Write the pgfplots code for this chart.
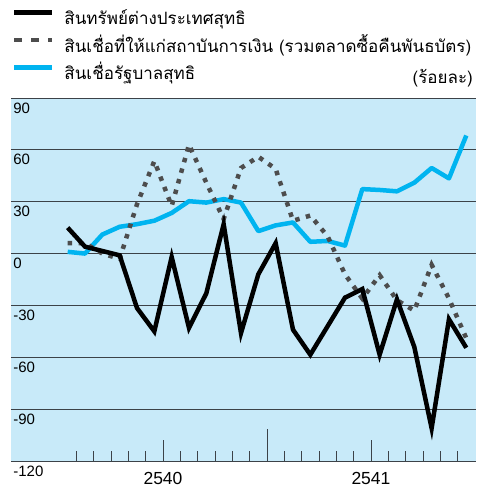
\documentclass[border=0pt]{standalone}
\usepackage{fontspec}
\setmainfont{Liberation Sans}
\newfontfamily\thaifont[Script=Thai]{Loma}
\usepackage{pgfplots}
\pgfplotsset{compat=1.18}
\definecolor{bgblue}{RGB}{200,234,249}
\definecolor{lineblue}{RGB}{0,180,240}
\definecolor{dgray}{RGB}{77,77,77}
\definecolor{gridc}{RGB}{60,66,72}
\begin{document}
\begin{tikzpicture}[x=1pt,y=1pt]
\path[use as bounding box] (0,0) rectangle (483,488);
\begin{axis}[
  at={(11pt,27pt)}, anchor=south west,
  scale only axis, width=465pt, height=363pt,
  xmin=-2.77, xmax=24.06, ymin=-120, ymax=90,
  axis background/.style={fill=bgblue},
  axis line style={draw=none},
  ytick={-120,-90,-60,-30,0,30,60,90},
  yticklabels={-120,-90,-60,-30,0,30,60,90},
  ymajorgrids, grid style={gridc, line width=0.9pt},
  ytick style={draw=none},
  yticklabel style={anchor=north west, inner sep=0pt, xshift=2.2pt, yshift=-4.4pt, font=\fontsize{15}{18}\selectfont},
  xtick={6,18}, xticklabels={2540,2541},
  minor xtick={1,...,23},
  extra x ticks={12}, extra x tick labels={},
  extra x tick style={major tick length=32pt, grid=none},
  xtick pos=bottom, tick align=inside,
  major tick length=21pt, minor tick length=10pt,
  xtick style={gridc, line width=0.9pt},
  xticklabel style={anchor=north, inner sep=0pt, yshift=-11.5pt, font=\fontsize{17.5}{20}\selectfont},
  title={\thaifont (ร้อยละ)},
  title style={at={(axis description cs:1,1)}, anchor=south east, inner sep=0pt, xshift=-3pt, yshift=4.5pt, font=\thaifont\fontsize{17}{20}\selectfont},
  legend cell align=left,
  legend image code/.code={\draw[#1] (0pt,7pt) -- (38pt,7pt);},
  legend style={at={(axis description cs:0,1)}, anchor=south west, xshift=1pt, yshift=9.8pt,
    draw=none, fill=none, inner sep=0pt, outer sep=0pt, row sep=0pt,
    font=\thaifont\fontsize{17}{20}\selectfont,
    nodes={inner sep=0pt, text height=19pt, text depth=8.5pt},
    /tikz/every odd column/.append style={column sep=10pt}},
]
\addlegendimage{black, line width=4.5pt}
\addlegendentry{สินทรัพย์ต่างประเทศสุทธิ}
\addlegendimage{dgray, line width=4.5pt, dash pattern=on 8pt off 9pt}
\addlegendentry{สินเชื่อที่ให้แก่สถาบันการเงิน (รวมตลาดซื้อคืนพันธบัตร)}
\addlegendimage{lineblue, line width=4.5pt}
\addlegendentry{สินเชื่อรัฐบาลสุทธิ}
% net government credit
\addplot[lineblue, line width=4.5pt, line join=round, forget plot] coordinates {
(0.5,1) (1.5,0) (2.5,11) (3.5,15.5) (4.5,17) (5.5,19) (6.5,23.5) (7.5,30.3)
(8.5,29.5) (9.5,31.5) (10.5,29.5) (11.5,13) (12.5,16.3) (13.5,18) (14.5,6.8) (15.5,7.3)
(16.5,4.6) (17.5,37.3) (18.5,36.8) (19.5,36) (20.5,41) (21.5,49.5) (22.5,43.5) (23.5,68.3)};
% credit to financial institutions
\addplot[dgray, line width=4.5pt, dash pattern=on 4.5pt off 6.5pt, forget plot] coordinates {
(0.5,6) (1.5,6) (2.5,0) (3.5,-3) (4.5,28.5) (5.5,53.5) (6.5,27.5) (7.5,63)
(8.5,41) (9.5,20) (10.5,49.5) (11.5,56) (12.5,49) (13.5,19) (14.5,22) (15.5,10)
(16.5,-12) (17.5,-26) (18.5,-12.5) (19.5,-27) (20.5,-33) (21.5,-6.5) (22.5,-26) (23.5,-49)};
% net foreign assets
\addplot[black, line width=4.5pt, line join=miter, forget plot] coordinates {
(0.5,15) (1.5,4) (2.5,1.5) (3.5,-1) (4.5,-31.5) (5.5,-45) (6.5,-2) (7.5,-43)
(8.5,-23) (9.5,17) (10.5,-46) (11.5,-12) (12.5,6) (13.5,-44) (14.5,-58.5) (15.5,-42)
(16.5,-25.5) (17.5,-20.5) (18.5,-58.5) (19.5,-26.5) (20.5,-54) (21.5,-101) (22.5,-38) (23.5,-54.5)};
\end{axis}
\end{tikzpicture}
\end{document}
